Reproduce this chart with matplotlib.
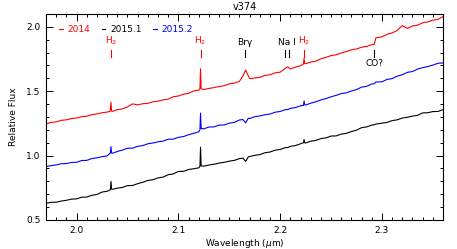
import matplotlib
matplotlib.use("Agg")
import matplotlib.pyplot as plt
from matplotlib.ticker import MultipleLocator

# wavelength grid (micron), shared by all three epochs
wavelength = [
    1.970, 1.975, 1.980, 1.985, 1.990, 1.995, 2.000, 2.005, 2.010, 2.015,
    2.020, 2.025, 2.030, 2.0332, 2.0338, 2.0344, 2.035, 2.040, 2.045, 2.050,
    2.055, 2.060, 2.065, 2.070, 2.075, 2.080, 2.085, 2.090, 2.095, 2.100,
    2.105, 2.110, 2.115, 2.120, 2.1212, 2.1218, 2.1224, 2.125, 2.130, 2.135,
    2.140, 2.145, 2.150, 2.155, 2.160, 2.1635, 2.1661, 2.1687, 2.170, 2.175,
    2.180, 2.185, 2.190, 2.195, 2.200, 2.205, 2.2075, 2.210, 2.215, 2.220,
    2.2229, 2.2235, 2.2241, 2.225, 2.230, 2.235, 2.240, 2.245, 2.250, 2.255,
    2.260, 2.265, 2.270, 2.275, 2.280, 2.285, 2.290, 2.2925, 2.2940, 2.300,
    2.305, 2.310, 2.315, 2.320, 2.325, 2.330, 2.335, 2.340, 2.345, 2.350,
    2.355, 2.360,
]

flux_2014 = [
    1.245, 1.258, 1.262, 1.274, 1.278, 1.288, 1.292, 1.303, 1.306, 1.318,
    1.324, 1.333, 1.338, 1.345, 1.415, 1.350, 1.343, 1.357, 1.363, 1.378,
    1.402, 1.394, 1.403, 1.406, 1.418, 1.423, 1.433, 1.438, 1.457, 1.463,
    1.477, 1.484, 1.502, 1.508, 1.520, 1.675, 1.520, 1.513, 1.522, 1.528,
    1.537, 1.543, 1.557, 1.563, 1.577, 1.620, 1.665, 1.620, 1.598, 1.603,
    1.608, 1.623, 1.628, 1.643, 1.648, 1.677, 1.690, 1.673, 1.687, 1.698,
    1.712, 1.755, 1.715, 1.713, 1.727, 1.733, 1.752, 1.763, 1.777, 1.783,
    1.797, 1.808, 1.822, 1.828, 1.842, 1.848, 1.862, 1.865, 1.915, 1.923,
    1.942, 1.953, 1.972, 2.010, 1.988, 2.007, 2.013, 2.032, 2.038, 2.052,
    2.058, 2.080,
]

flux_2015_1 = [
    0.630, 0.637, 0.638, 0.647, 0.653, 0.662, 0.664, 0.677, 0.678, 0.692,
    0.698, 0.717, 0.723, 0.735, 0.800, 0.740, 0.738, 0.747, 0.753, 0.767,
    0.768, 0.782, 0.793, 0.807, 0.813, 0.827, 0.833, 0.852, 0.858, 0.877,
    0.878, 0.892, 0.898, 0.905, 0.915, 1.065, 0.920, 0.918, 0.927, 0.933,
    0.942, 0.948, 0.957, 0.963, 0.977, 0.980, 0.955, 0.990, 0.993, 1.002,
    1.008, 1.022, 1.028, 1.042, 1.048, 1.062, 1.063, 1.072, 1.078, 1.092,
    1.100, 1.125, 1.100, 1.098, 1.112, 1.118, 1.132, 1.138, 1.152, 1.153,
    1.167, 1.173, 1.187, 1.198, 1.217, 1.223, 1.237, 1.240, 1.245, 1.252,
    1.258, 1.272, 1.278, 1.292, 1.298, 1.307, 1.313, 1.332, 1.333, 1.342,
    1.343, 1.357,
]

flux_2015_2 = [
    0.915, 0.922, 0.928, 0.937, 0.938, 0.947, 0.948, 0.962, 0.963, 0.977,
    0.983, 0.992, 0.998, 1.020, 1.070, 1.020, 1.018, 1.032, 1.043, 1.057,
    1.058, 1.072, 1.078, 1.092, 1.098, 1.107, 1.113, 1.127, 1.128, 1.142,
    1.148, 1.162, 1.173, 1.185, 1.200, 1.330, 1.210, 1.208, 1.222, 1.223,
    1.237, 1.238, 1.252, 1.258, 1.277, 1.280, 1.255, 1.290, 1.288, 1.302,
    1.308, 1.317, 1.323, 1.337, 1.343, 1.357, 1.358, 1.367, 1.373, 1.387,
    1.390, 1.425, 1.395, 1.393, 1.407, 1.418, 1.432, 1.443, 1.457, 1.468,
    1.482, 1.488, 1.502, 1.513, 1.532, 1.538, 1.557, 1.558, 1.572, 1.573,
    1.592, 1.598, 1.617, 1.628, 1.647, 1.653, 1.672, 1.683, 1.692, 1.703,
    1.717, 1.720,
]

series_labels = ['2014', '2015.1', '2015.2']
series_colours = ['red', 'black', 'blue']

# line identifications: (label, wavelengths of the tick marks, colour)
line_ids = [
    ('H$_2$', [2.0338], 'red'),
    ('H$_2$', [2.1218], 'red'),
    ('Brγ', [2.1655], 'black'),
    ('Na I', [2.2052, 2.2085], 'black'),
    ('H$_2$', [2.2235], 'red'),
]

plt.rcParams['font.family'] = ['DejaVu Sans']
fs = 6.5

fig = plt.figure(figsize=(4.57, 2.49), dpi=100)
ax = fig.add_axes([0.1007, 0.1165, 0.8687, 0.8273])

for flux, lab, col in zip([flux_2014, flux_2015_1, flux_2015_2], series_labels, series_colours):
    ax.plot(wavelength, flux, color=col, lw=0.8, label=lab)

for lab, waves, col in line_ids:
    for w in waves:
        ax.plot([w, w], [1.768, 1.82], color=col, lw=0.8)
    ax.text(sum(waves) / len(waves), 1.84, lab, color=col, fontsize=fs,
            ha='center', va='bottom')

# CO? mark with label below
ax.plot([2.2925, 2.2925], [1.768, 1.82], color='black', lw=0.8)
ax.text(2.2925, 1.75, 'CO?', color='black', fontsize=fs, ha='center', va='top')

ax.set_xlim(1.97, 2.36)
ax.set_ylim(0.5, 2.1)
ax.xaxis.set_major_locator(MultipleLocator(0.1))
ax.xaxis.set_minor_locator(MultipleLocator(0.01))
ax.yaxis.set_major_locator(MultipleLocator(0.5))
ax.yaxis.set_minor_locator(MultipleLocator(0.1))
ax.tick_params(which='both', direction='in', top=True, right=True,
               labelsize=fs, width=0.7, pad=4)
ax.tick_params(which='major', length=5)
ax.tick_params(which='minor', length=2.5)
for sp in ax.spines.values():
    sp.set_linewidth(0.8)

ax.set_xlabel('Wavelength ($\\mu$m)', fontsize=fs, labelpad=2)
ax.set_ylabel('Relative Flux', fontsize=fs, labelpad=6)
ax.set_title('v374', fontsize=fs + 0.5, pad=3)

leg = ax.legend(loc='upper left', bbox_to_anchor=(0.024, 0.965), ncol=3,
                frameon=False, fontsize=fs, handlelength=0.4, handletextpad=0.5,
                columnspacing=1.3, labelcolor='linecolor', borderaxespad=0)

fig.savefig('out.png', dpi=100)
